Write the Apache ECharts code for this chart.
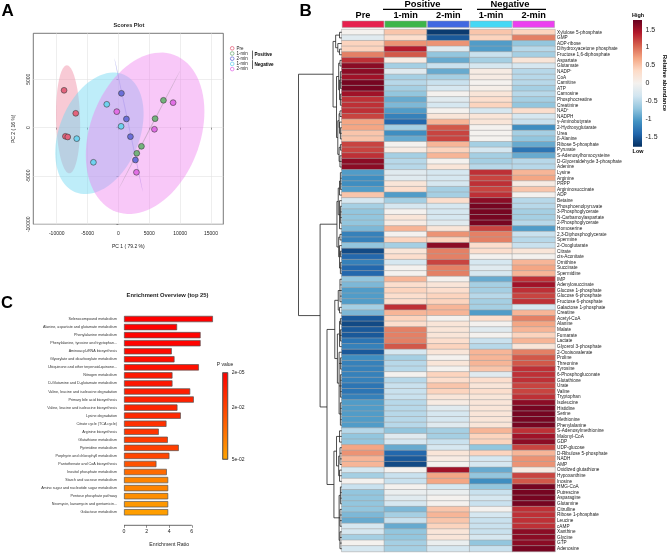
<!DOCTYPE html>
<html><head><meta charset="utf-8">
<script src="https://cdn.jsdelivr.net/npm/echarts@6/dist/echarts.min.js"></script>
<style>html,body{margin:0;padding:0;background:#fff}#c{width:669px;height:553px}</style>
</head><body><div id="c"></div>
<script>
// ---------------- Panel A : PCA scores ----------------
const pcaGroupNames = ['Pre', '1-min Positive', '2-min Positive', '1-min Negative', '2-min Negative'];
const pcaGroupColors = ['#e4637c', '#74b27c', '#6b6fd9', '#6fd2f0', '#e26fe6'];
const prePC1 = [-8811, -6919, -8595, -8216];
const prePC2 = [3862, 1483, -897, -966];
const pos1PC1 = [7297, 5946, 3730, 2973];
const pos1PC2 = [2828, 931, -1931, -2655];
const pos2PC1 = [486, 1297, 1946, 2757];
const pos2PC2 = [3552, 897, -931, -3345];
const neg1PC1 = [-1892, 432, -6757, -4054];
const neg1PC2 = [2414, 138, -1138, -3586];
const neg2PC1 = [8865, -270, 5838, 2919];
const neg2PC2 = [2586, 1655, -172, -4621];
// confidence ellipses: centre x, centre y, conjugate semi-axis u (x,y), v (x,y)
const preEllipse = [-8162, 862, -200, 5589, 1944, 0];
const pos1Ellipse = [5046, -190, 4954, 6086, 90, 0];
const pos2Ellipse = [1649, 276, -2297, 6897, 90, 0];
const neg1Ellipse = [-3081, -586, 3915, 6090, 5994, -1573];
const neg2Ellipse = [4324, -586, 4725, 8108, 8370, -2001];
const ellipseFills = ['rgba(241,150,172,0.5)', 'rgba(120,175,120,0.55)', 'rgba(125,125,225,0.5)', 'rgba(110,215,242,0.45)', 'rgba(238,125,238,0.42)'];
const pcaXTicks = [-10000, -5000, 0, 5000, 10000, 15000];
const pcaYTicks = [-10000, -5000, 0, 5000];

// ---------------- Panel B : heatmap ----------------
const heatmapColumns = ['Pre', '1-min', '2-min', '1-min', '2-min'];
const groupBarColors = ['#e6204e', '#3db54a', '#4169e1', '#45d8f5', '#ec3ff0'];
const metabolites = ['Xylulose 5-phosphate','GMP','ADP-ribose','Dihydroxyacetone phosphate','Fructose 1,6-diphosphate','Aspartate','Glutamate','NADP\u207A','CoA','Carnitine',
'ATP','Carnosine','Phosphocreatine','Creatinine','NAD\u207A','NADPH','\u03B3-Aminobutyrate','2-Hydroxyglutarate','Urea','\u03B2-Alanine',
'Ribose 5-phosphate','Pyruvate','S-Adenosylhomocysteine','D-Glyceraldehyde 3-phosphate','Adenine','Lysine','Arginine','PRPP','Argininosuccinate','ADP',
'Betaine','Phosphoenolpyruvate','3-Phosphoglycerate','N-Carbamoylaspartate','2-Phosphoglycerate','Homoserine','2,3-Diphosphoglycerate','Spermine','2-Oxoglutarate','Citrate',
'cis-Aconitate','Ornithine','Succinate','Spermidine','IMP','Adenylosuccinate','Glucose 1-phosphate','Glucose 6-phosphate','Fructose 6-phosphate','Galactose 1-phosphate',
'Creatine','Acetyl-CoA','Alanine','Malate','Fumarate','Lactate','Glycerol 3-phosphate','2-Oxoisovalerate','Proline','Threonine',
'Tyrosine','6-Phosphogluconate','Glutathione','Urate','Valine','Tryptophan','Isoleucine','Histidine','Serine','Methionine',
'Phenylalanine','S-Adenosylmethionine','Malonyl-CoA','GDP','UDP-glucose','D-Ribulose 5-phosphate','NADH','AMP','Oxidized glutathione','Hypoxanthine',
'Inosine','HMG-CoA','Putrescine','Asparagine','Glutamine','Citrulline','Ribose 1-phosphate','Leucine','cAMP','Xanthine',
'Glycine','GTP','Adenosine'];
const preValues = [0.0,-0.2,0.4,0.4,0.9,1.3,1.6,1.6,1.5,1.7, 1.7,1.5,1.3,1.3,1.3,1.2,0.7,0.7,0.5,0.5,
 1.2,1.2,1.3,1.6,1.6,-1.0,-1.1,-1.1,-1.0,0.5, -0.3,-0.6,-0.7,-0.7,-0.7,-0.8,-1.2,-1.2,-0.7,-1.6,
 -1.4,-1.2,-1.4,-1.4,-0.7,-0.8,-1.0,-1.0,-1.0,-0.6, -0.8,-1.5,-1.6,-1.5,-1.5,-1.3,-1.2,-1.5,-1.1,-1.2,
 -1.2,-1.2,-1.2,-1.3,-1.3,-1.2,-1.0,-1.0,-1.0,-1.0, -1.0,-0.5,-0.7,-0.7,0.7,0.8,0.6,0.6,-0.3,-0.6,
 0.0,-0.4,-0.7,-0.7,-0.7,-0.7,-0.8,-0.9,-0.3,-0.3, -0.6,0.0,-0.3];
const pos1Values = [0.5,0.3,0.8,1.4,1.1,0.1,-0.6,-0.2,-0.6,-0.5, -0.6,-0.7,-0.9,-0.8,-1.0,-1.2,-1.4,-0.6,-1.1,-0.9,
 0.0,0.1,-0.6,-0.5,-0.5,-0.2,-0.2,0.2,0.3,-1.0, -0.6,-0.3,0.0,0.2,0.1,0.6,0.0,0.4,-0.6,0.2,
 0.3,-0.3,0.0,0.0,0.6,0.3,0.4,0.3,0.3,1.3, 0.6,0.4,0.3,0.9,0.9,0.9,1.1,-0.3,-0.6,-0.5,
 -0.5,0.0,-0.5,-0.4,-0.4,-0.4,-0.5,-0.5,-0.5,-0.5, -0.5,-0.7,-0.2,-0.3,-0.9,-1.4,-1.5,-1.6,0.0,-0.4,
 -0.4,0.0,-0.1,-0.2,-0.3,-0.8,-0.6,-0.4,-0.9,-0.7, -0.7,-0.6,-0.6];
const pos2Values = [-1.7,-1.5,0.8,-0.2,-0.7,-0.9,-0.4,-0.9,-0.6,-0.4, -0.3,0.0,-0.2,-0.3,0.0,0.2,0.6,1.1,1.2,1.2,
 0.6,0.4,0.6,0.0,0.2,-0.3,-0.3,-0.3,-0.6,-0.6, 0.3,-0.3,-0.3,-0.3,-0.2,0.2,0.8,0.4,1.6,0.9,
 0.9,1.2,0.9,0.9,0.0,0.2,0.3,0.4,0.4,0.6, 0.6,0.0,0.2,0.2,0.2,0.3,0.4,0.2,0.0,0.2,
 0.0,0.4,0.3,0.5,0.4,0.2,0.1,-0.2,-0.3,-0.3, -0.2,-0.6,-0.6,-0.4,-0.3,0.2,0.1,0.0,1.5,0.7,
 0.7,-0.3,-0.1,0.0,0.0,0.5,0.6,0.5,0.4,0.2, 0.2,-0.1,-0.3];
const neg1Values = [0.5,0.4,-1.0,-1.0,-0.4,-0.6,-0.3,0.1,0.1,0.0, 0.05,0.2,0.3,0.4,-0.3,0.2,0.2,0.0,0.0,0.0,
 -0.6,-0.3,-0.6,-0.6,-0.5,1.3,1.2,1.3,1.2,1.3, 1.6,1.7,1.7,1.7,1.7,1.2,0.9,0.9,0.3,0.3,
 0.0,-0.3,-0.2,-0.3,-0.9,-0.6,-0.6,-0.5,-0.6,-0.6, -1.0,0.3,0.0,-0.2,0.0,-0.4,-0.5,0.6,0.6,0.6,
 0.5,-0.2,0.3,0.2,0.3,0.2,0.2,0.2,0.2,0.2, 0.2,0.6,0.4,0.4,-0.7,0.4,-0.3,-0.3,-0.9,-0.7,
 -1.1,-0.7,-0.4,-0.3,-0.4,0.0,-0.3,-0.4,-0.4,-0.4, -0.3,-0.7,-0.4];
const neg2Values = [0.4,0.9,-0.7,-0.5,-0.6,0.2,-0.3,-0.5,-0.5,-0.5, -0.6,-0.5,-0.6,-0.7,0.3,-0.3,-0.4,-1.1,-0.6,-0.7,
 -0.9,-1.3,-0.9,-0.5,-0.5,0.6,0.7,0.1,0.5,0.0, -0.5,-0.5,-0.6,-0.6,-0.5,-1.0,-0.4,-0.5,-0.4,0.2,
 0.0,0.6,0.7,0.6,1.3,1.5,1.3,1.2,1.3,-0.3, 0.6,0.9,0.7,0.6,0.4,0.6,0.2,0.9,1.1,1.1,
 1.3,1.3,1.3,1.2,1.2,1.3,1.6,1.7,1.7,1.7, 1.7,1.3,1.5,1.6,1.2,0.6,0.8,0.8,0.1,1.2,
 1.1,1.7,1.7,1.7,1.7,1.3,1.3,1.3,1.3,1.6, 1.6,1.6,1.7];
const heatmapRange = [-1.77, 1.77];
const heatmapColorTicks = [-1.5, -1, -0.5, 0, 0.5, 1, 1.5];
const rdbuColors = ['#053061','#2166ac','#4393c3','#92c5de','#d1e5f0','#f4f1ee','#fddbc7','#f4a582','#d6604d','#b2182b','#67001f'];
// row dendrogram: [height, child, child, ...]; leaves are row indices
const dendrogramTree = [10,
  [2.0,
    [1.4, [0.5, 0, 1], [0.9, 2, [0.5, 3, 4]]],
    [1.2,
      [0.7, [0.4, 5, 6], [0.5, [0.3, 7, 8, 9, 10], [0.3, 11, 12, 13]]],
      [0.9, [0.6, [0.4, 14, 15], [0.5, 16, [0.3, 17, 18, 19]]], [0.6, [0.3, 20, 21], [0.4, 22, 23, 24]]]]],
  [5.0,
    [1.1,
      [0.8, [0.5, [0.3, 25, 26, 27, 28], 29], [0.5, 30, [0.3, 31, 32, 33, 34], 35]],
      [0.7, [0.4, 36, 37], [0.5, 38, [0.3, 39, 40], [0.3, 41, 42, 43]]]],
    [3.4,
      [1.6,
        [0.8, [0.4, 44, 45, 46, 47, 48], [0.5, 49, 50]],
        [1.0, [0.5, [0.3, 51, 52], [0.3, 53, 54, 55], 56], [0.6, 57, [0.3, 58, 59, 60], [0.3, 61, 62, 63, 64, 65], [0.3, 66, 67, 68, 69, 70]]]],
      [1.8,
        [1.2, [0.5, 71, 72, 73], [0.7, [0.4, 74, 75, 76, 77], [0.5, 78, 79, 80]]],
        [0.6, [0.3, 81, 82, 83, 84], [0.4, 85, 86, 87, 88], [0.4, 89, 90, 91, 92]]]]]];

// ---------------- Panel C : enrichment ----------------
const pathways = ['Selenocompound metabolism','Alanine, aspartate and glutamate metabolism','Phenylalanine metabolism','Phenylalanine, tyrosine and tryptophan...',
'Aminoacyl-tRNA biosynthesis','Glyoxylate and dicarboxylate metabolism','Ubiquinone and other terpenoid-quinone...','Nitrogen metabolism',
'D-Glutamine and D-glutamate metabolism','Valine, leucine and isoleucine degradation','Primary bile acid biosynthesis','Valine, leucine and isoleucine biosynthesis',
'Lysine degradation','Citrate cycle (TCA cycle)','Arginine biosynthesis','Glutathione metabolism','Pyrimidine metabolism','Porphyrin and chlorophyll metabolism',
'Pantothenate and CoA biosynthesis','Inositol phosphate metabolism','Starch and sucrose metabolism','Amino sugar and nucleotide sugar metabolism',
'Pentose phosphate pathway','Neomycin, kanamycin and gentamicin...','Galactose metabolism'];
const enrichmentRatio = [7.87,4.70,6.78,6.78,4.23,4.47,6.63,4.29,4.29,5.86,6.18,4.73,5.03,3.76,3.08,3.88,4.85,4.02,2.87,3.79,3.91,3.91,3.91,3.91,3.91];
const pathwayPValues = [2e-5,5e-4,1e-3,1e-3,3e-3,4e-3,5e-3,7e-3,7e-3,9e-3,1e-2,1.1e-2,1.2e-2,1.5e-2,1.6e-2,1.8e-2,1.9e-2,2.1e-2,2.5e-2,3.2e-2,4e-2,4e-2,4.3e-2,4.6e-2,4.8e-2];
const pValueRange = [2e-5, 5e-2];
const pValueTicks = [2e-5, 2e-2, 5e-2];
const pValueColors = ['#ff0000', '#ffa500'];
const enrichTicks = [0, 2, 4, 6];

// ================= build =================
const FONT = 'Liberation Sans, Arial, Helvetica, sans-serif';
const chart = echarts.init(document.getElementById('c'), null, {renderer: 'canvas'});

function zipPts(xs, ys) { return xs.map((x, i) => [x, ys[i]]); }
const pcaPoints = [zipPts(prePC1, prePC2), zipPts(pos1PC1, pos1PC2), zipPts(pos2PC1, pos2PC2), zipPts(neg1PC1, neg1PC2), zipPts(neg2PC1, neg2PC2)];
const ellipses = [preEllipse, pos1Ellipse, pos2Ellipse, neg1Ellipse, neg2Ellipse];

function ellipseRender(params, api) {
  const cx = api.value(0), cy = api.value(1), ux = api.value(2), uy = api.value(3), vx = api.value(4), vy = api.value(5);
  const pts = [];
  for (let k = 0; k < 90; k++) {
    const t = k / 90 * Math.PI * 2;
    pts.push(api.coord([cx + ux * Math.cos(t) + vx * Math.sin(t), cy + uy * Math.cos(t) + vy * Math.sin(t)]));
  }
  return {type: 'polygon', shape: {points: pts}, style: {fill: ellipseFills[params.dataIndex], stroke: null}};
}

// dendrogram segments derived from the tree
const dendroSegs = [];
function layoutTree(node) {
  if (typeof node === 'number') return {h: 0, y: node};
  const h = node[0];
  const kids = node.slice(1).map(layoutTree);
  const ys = kids.map(k => k.y);
  const y0 = Math.min(...ys), y1 = Math.max(...ys);
  dendroSegs.push([h, y0, h, y1]);
  kids.forEach(k => dendroSegs.push([k.h, k.y, h, k.y]));
  return {h: h, y: (y0 + y1) / 2};
}
layoutTree(dendrogramTree);

const colValues = [preValues, pos1Values, pos2Values, neg1Values, neg2Values];
const heatData = [];
colValues.forEach((arr, c) => arr.forEach((v, r) => heatData.push([c, r, v])));

function expLabel(v) {
  const s = v.toExponential(0);
  const m = s.split('e');
  const e = parseInt(m[1], 10);
  return m[0] + 'e' + (e < 0 ? '-' : '+') + String(Math.abs(e)).padStart(2, '0');
}

const grids = [
  {left: 33.3, top: 33.3, width: 190, height: 191, show: true, borderColor: '#555', borderWidth: 0.8},   // 0 PCA
  {left: 341.7, top: 29.5, width: 213.3, height: 522},   // 1 heatmap
  {left: 298.5, top: 29.5, width: 43.2, height: 522},    // 2 dendrogram
  {left: 341.7, top: 20.7, width: 213.3, height: 7},     // 3 header colors
  {left: 633, top: 20, width: 9, height: 126.7},         // 4 heatmap colour bar
  {left: 124, top: 315, width: 90.4, height: 201.3},     // 5 enrichment
  {left: 222.7, top: 372.7, width: 5, height: 86.6}      // 6 p colour bar
];

const axText = {fontFamily: FONT, color: '#222'};
const xAxes = [
  {gridIndex: 0, type: 'value', min: -13800, max: 17000,
    axisLine: {show: false}, axisTick: {show: true, length: 2, customValues: pcaXTicks, lineStyle: {color: '#555', width: 0.6}},
    axisLabel: Object.assign({customValues: pcaXTicks, fontSize: 5, margin: 6.5, formatter: v => String(v)}, axText),
    splitLine: {show: true, lineStyle: {color: '#e2e2e2', width: 0.6}},
    name: 'PC 1 ( 79.2 %)', nameLocation: 'middle', nameGap: 20, nameTextStyle: {fontSize: 5, fontFamily: FONT, color: '#222'}},
  {gridIndex: 1, type: 'category', data: heatmapColumns.map((c, i) => 'c' + i), show: false},
  {gridIndex: 2, type: 'value', min: 0, max: 10, inverse: true, show: false},
  {gridIndex: 3, type: 'category', data: heatmapColumns.map((c, i) => 'c' + i), position: 'top',
    axisLine: {show: false}, axisTick: {show: false},
    axisLabel: {show: true, interval: 0, margin: 1, fontSize: 9.2, fontWeight: 'bold', fontFamily: FONT, color: '#000', formatter: (v, i) => heatmapColumns[i]}},
  {gridIndex: 4, type: 'value', min: 0, max: 1, show: false},
  {gridIndex: 5, type: 'value', min: 0, max: 8, offset: 9,
    axisLine: {show: false}, splitLine: {show: false},
    axisTick: {show: true, length: 2.5, customValues: enrichTicks, lineStyle: {color: '#444', width: 0.6}},
    axisLabel: Object.assign({customValues: enrichTicks, fontSize: 5.2, margin: 4}, axText),
    name: 'Enrichment Ratio', nameLocation: 'middle', nameGap: 17, nameTextStyle: {fontSize: 5.2, fontFamily: FONT, color: '#222'}},
  {gridIndex: 6, type: 'value', min: 0, max: 1, show: false}
];
const yAxes = [
  {gridIndex: 0, type: 'value', min: -10000, max: 9760,
    axisLine: {show: false}, axisTick: {show: true, length: 2, customValues: pcaYTicks, lineStyle: {color: '#555', width: 0.6}},
    axisLabel: Object.assign({customValues: pcaYTicks, fontSize: 5, margin: 2, rotate: 90, formatter: v => String(v)}, axText),
    splitLine: {show: true, lineStyle: {color: '#e2e2e2', width: 0.6}},
    name: 'PC 2 ( 16 %)', nameLocation: 'middle', nameGap: 17, nameTextStyle: {fontSize: 5, fontFamily: FONT, color: '#222'}},
  {gridIndex: 1, type: 'category', data: metabolites, inverse: true, position: 'right',
    axisLine: {show: false}, axisTick: {show: false},
    axisLabel: {interval: 0, fontSize: 4.7, margin: 2, fontFamily: FONT, color: '#1a1a1a'}},
  {gridIndex: 2, type: 'value', min: -0.5, max: metabolites.length - 0.5, inverse: true, show: false},
  {gridIndex: 3, type: 'value', min: 0, max: 1, show: false},
  {gridIndex: 4, type: 'value', min: heatmapRange[0], max: heatmapRange[1], position: 'right',
    axisLine: {show: false}, axisTick: {show: false}, splitLine: {show: false},
    axisLabel: Object.assign({customValues: heatmapColorTicks, fontSize: 7, margin: 3.5}, axText)},
  {gridIndex: 5, type: 'category', data: pathways, inverse: true,
    axisLine: {show: false}, axisTick: {show: false},
    axisLabel: {interval: 0, fontSize: 3.7, margin: 7, fontFamily: FONT, color: '#333'}},
  {gridIndex: 6, type: 'value', min: pValueRange[0], max: pValueRange[1], inverse: true, position: 'right',
    axisLine: {show: false}, axisTick: {show: false}, splitLine: {show: false},
    axisLabel: Object.assign({customValues: pValueTicks, fontSize: 5, margin: 4, formatter: v => expLabel(v)}, axText)}
];

const series = [];
// ellipses
series.push({type: 'custom', xAxisIndex: 0, yAxisIndex: 0, renderItem: ellipseRender, data: ellipses, clip: true, z: 1, silent: true,
  encode: {x: 0, y: 1}});
// PCA points
pcaGroupNames.forEach((g, i) => {
  series.push({type: 'scatter', name: g, xAxisIndex: 0, yAxisIndex: 0, data: pcaPoints[i], symbolSize: 5.8, z: 3,
    itemStyle: {color: pcaGroupColors[i], borderColor: '#3a3a3a', borderWidth: 0.6, opacity: 1}});
});
// heatmap
series.push({type: 'heatmap', xAxisIndex: 1, yAxisIndex: 1, data: heatData,
  itemStyle: {borderColor: '#a3a3a3', borderWidth: 0.55}, emphasis: {disabled: true}});
const heatSeriesIndex = series.length - 1;
// dendrogram
series.push({type: 'custom', xAxisIndex: 2, yAxisIndex: 2, data: dendroSegs, encode: {x: [0, 2], y: [1, 3]}, silent: true,
  renderItem: (params, api) => {
    const a = api.coord([api.value(0), api.value(1)]);
    const b = api.coord([api.value(2), api.value(3)]);
    return {type: 'line', shape: {x1: a[0], y1: a[1], x2: b[0], y2: b[1]}, style: {stroke: '#222', lineWidth: 0.8}};
  }});
// header colours
series.push({type: 'bar', xAxisIndex: 3, yAxisIndex: 3, barWidth: '99%', silent: true,
  data: groupBarColors.map(c => ({value: 1, itemStyle: {color: c, borderColor: '#a3a3a3', borderWidth: 0.5}}))});
// heatmap colour bar
series.push({type: 'custom', xAxisIndex: 4, yAxisIndex: 4, data: [[0, heatmapRange[0], 1, heatmapRange[1]]], silent: true,
  encode: {x: [0, 2], y: [1, 3]},
  renderItem: (params, api) => {
    const a = api.coord([api.value(0), api.value(3)]);
    const b = api.coord([api.value(2), api.value(1)]);
    const stops = rdbuColors.slice().reverse().map((c, k) => ({offset: k / (rdbuColors.length - 1), color: c}));
    return {type: 'rect', shape: {x: a[0], y: a[1], width: b[0] - a[0], height: b[1] - a[1]},
      style: {fill: new echarts.graphic.LinearGradient(0, 0, 0, 1, stops), stroke: null}};
  }});
// enrichment bars
series.push({type: 'bar', xAxisIndex: 5, yAxisIndex: 5, barWidth: 6.3, silent: true,
  data: pathways.map((p, i) => [enrichmentRatio[i], p, pathwayPValues[i]]), encode: {x: 0, y: 1},
  itemStyle: {borderColor: '#555', borderWidth: 0.7}});
const barSeriesIndex = series.length - 1;
// p colour bar
series.push({type: 'custom', xAxisIndex: 6, yAxisIndex: 6, data: [[0, pValueRange[0], 1, pValueRange[1]]], silent: true,
  encode: {x: [0, 2], y: [1, 3]},
  renderItem: (params, api) => {
    const a = api.coord([api.value(0), api.value(1)]);
    const b = api.coord([api.value(2), api.value(3)]);
    return {type: 'rect', shape: {x: a[0], y: a[1], width: b[0] - a[0], height: b[1] - a[1]},
      style: {fill: new echarts.graphic.LinearGradient(0, 0, 0, 1, [{offset: 0, color: pValueColors[0]}, {offset: 1, color: pValueColors[1]}]),
        stroke: '#555', lineWidth: 0.7}};
  }});

function txt(id, text, x, y, size, opts) {
  opts = opts || {};
  return {type: 'text', id: id, x: x, y: y, rotation: opts.rotation || 0, silent: true, z: 100,
    style: {text: text, fontSize: size, fontWeight: opts.bold ? 'bold' : 'normal', fontFamily: FONT, fill: opts.color || '#000',
      align: opts.align || 'center', verticalAlign: 'middle', textAlign: opts.align || 'center', textVerticalAlign: 'middle'}};
}
function seg(id, x1, y1, x2, y2, w) {
  return {type: 'line', id: id, silent: true, shape: {x1: x1, y1: y1, x2: x2, y2: y2}, style: {stroke: '#000', lineWidth: w}};
}

const graphics = [
  txt('lA', 'A', 1.5, 11, 17, {bold: true, align: 'left'}),
  txt('lB', 'B', 299.5, 11, 17, {bold: true, align: 'left'}),
  txt('lC', 'C', 1, 303, 16.5, {bold: true, align: 'left'}),
  txt('tA', 'Scores Plot', 129, 25, 5.6, {bold: true, color: '#222'}),
  txt('tC', 'Enrichment Overview (top 25)', 167.5, 295.8, 5.8, {bold: true, color: '#222'}),
  txt('gP', 'Positive', 422.5, 4.2, 9.4, {bold: true}),
  seg('gPl', 383, 9.4, 462, 9.4, 1.3),
  txt('gN', 'Negative', 510, 4.2, 9.4, {bold: true}),
  seg('gNl', 477, 9.4, 546, 9.4, 1.3),
  txt('hi', 'High', 638, 15.6, 5.4, {bold: true}),
  txt('lo', 'Low', 638, 151.4, 5.4, {bold: true}),
  txt('ra', 'Relative abundance', 664.5, 83, 6, {bold: true, rotation: -Math.PI / 2}),
  txt('pv', 'P value', 225, 364.2, 5, {color: '#222'}),
  seg('bPl', 252.5, 50.6, 252.5, 59.4, 0.6),
  txt('bP', 'Positive', 254.5, 55, 4.6, {bold: true, align: 'left'}),
  seg('bNl', 252.5, 60.2, 252.5, 69, 0.6),
  txt('bN', 'Negative', 254.5, 64.6, 4.6, {bold: true, align: 'left'})
];

const option = {
  animation: false,
  backgroundColor: '#fff',
  textStyle: {fontFamily: FONT},
  grid: grids,
  xAxis: xAxes,
  yAxis: yAxes,
  legend: {
    orient: 'vertical', left: 230, top: 45.8, padding: 0, itemGap: 0.2, itemWidth: 3.6, itemHeight: 3.6,
    icon: 'circle', selectedMode: false,
    textStyle: {fontSize: 4.5, fontFamily: FONT, color: '#222', lineHeight: 4.5, padding: [0, 0, 0, -2.5]},
    formatter: n => n.split(' ')[0],
    data: pcaGroupNames.map((g, i) => ({name: g, itemStyle: {color: '#fff', borderColor: pcaGroupColors[i], borderWidth: 0.8}}))
  },
  visualMap: [
    {type: 'continuous', show: false, min: heatmapRange[0], max: heatmapRange[1], seriesIndex: heatSeriesIndex, dimension: 2,
      inRange: {color: rdbuColors}},
    {type: 'continuous', show: false, min: pValueRange[0], max: pValueRange[1], seriesIndex: barSeriesIndex, dimension: 2,
      inRange: {color: pValueColors}}
  ],
  graphic: {elements: graphics},
  series: series
};
chart.setOption(option);

// R-style x axis line of panel C spanning the first to last tick
const ax0 = chart.convertToPixel({xAxisIndex: 5}, enrichTicks[0]);
const ax1 = chart.convertToPixel({xAxisIndex: 5}, enrichTicks[enrichTicks.length - 1]);
const gridBottom = grids[5].top + grids[5].height + 9;
chart.setOption({graphic: {elements: [seg('cAx', ax0, gridBottom, ax1, gridBottom, 0.6)]}});
</script>
</body></html>
